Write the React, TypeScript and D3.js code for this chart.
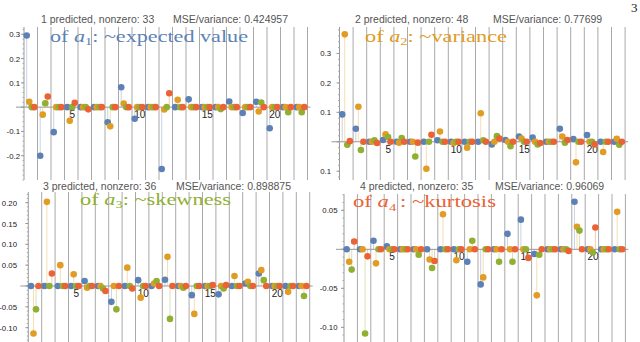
import * as d3 from "d3";
import React from "react";

// 21 feature groups, 4 predicted coefficients each
const groups = d3.range(1, 22);
const colors = ["#5e81b5", "#e19c24", "#8fb032", "#eb6235"];
const xTicks = [5, 10, 15, 20];

// panel 1: a1 ~ expected value
const p1Blue = [0.295, -0.2, -0.103, 0, 0, 0, -0.062, 0.082, -0.048, 0, -0.255, 0, 0.032, 0, 0, 0.023, -0.024, 0.022, -0.087, 0, 0];
const p1Orange = [0.022, -0.031, 0, -0.056, 0, 0, -0.079, 0.015, 0, 0, -0.01, 0.03, 0, 0, 0, 0, 0, -0.018, 0, 0, 0];
const p1Green = [0, 0.016, 0, 0, 0, 0, 0, 0, 0, 0, 0, 0, 0, 0, -0.008, 0, 0, 0.019, 0, -0.021, -0.021];
const p1Red = [0, 0.044, 0, 0.018, -0.009, 0, 0, 0, 0, 0, 0.057, 0, 0, 0, 0, 0, 0, 0, 0, 0, 0];

// panel 2: a2 ~ variance
const p2Blue = [0.093, 0.044, 0, 0.006, 0, 0, 0, 0.005, 0, 0, 0, -0.009, 0.006, 0.018, 0.014, 0, 0.044, 0.009, 0.023, 0, 0];
const p2Orange = [0.365, 0.119, 0, 0.025, -0.003, 0, -0.092, 0.035, -0.004, -0.02, 0.097, 0, 0, 0.011, 0, 0, 0.018, -0.07, 0, -0.035, 0.01];
const p2Green = [-0.01, -0.028, 0.005, 0.016, 0.013, -0.05, 0, 0, 0, 0, 0.005, 0.019, -0.015, 0, -0.009, 0, -0.003, 0, 0, 0, -0.01];
const p2Red = [0.002, 0, -0.004, 0, 0, -0.003, 0.024, 0, 0, 0, 0, 0.011, 0, 0, -0.004, 0, 0.006, 0, -0.009, 0, 0];

// panel 3: a3 ~ skewness
const p3Blue = [0, 0, 0, 0, 0.012, 0, -0.038, 0, 0.014, 0, 0.015, 0, -0.022, 0, -0.02, 0, 0.006, 0.03, 0, 0, 0];
const p3Orange = [-0.114, 0.202, 0.05, 0.028, -0.004, 0, 0, 0.044, -0.028, 0.006, 0.07, 0, -0.067, 0, 0, 0.024, 0.01, 0.038, 0, -0.014, 0];
const p3Green = [-0.056, 0, 0, 0, 0, -0.006, -0.056, 0, 0, 0.012, -0.079, -0.004, 0, 0, -0.006, 0, 0, 0.014, 0, 0, -0.024];
const p3Red = [0, 0.03, 0, 0, 0, -0.012, 0, -0.006, 0, 0, 0, 0, 0, 0.002, 0.002, 0, 0, 0, 0, 0, 0];

// panel 4: a4 ~ kurtosis
const p4Blue = [0, 0, 0.011, 0.004, 0, 0, 0, 0, 0, -0.016, -0.045, 0, 0.02, 0.038, -0.006, 0, 0, 0.061, 0, 0, 0];
const p4Orange = [-0.016, 0, -0.018, 0, 0, 0, -0.013, 0.045, -0.014, 0, -0.036, 0, 0, 0, -0.059, 0, 0, 0.029, 0, 0, 0.048];
const p4Green = [-0.026, -0.108, 0, 0, 0, -0.007, -0.024, 0, 0, 0.011, 0, -0.016, -0.016, 0, -0.007, 0, 0, 0.024, -0.004, 0, 0];
const p4Red = [0.01, -0.009, 0, 0, 0, 0, -0.015, 0, 0, 0, 0, 0, 0, -0.011, 0, 0, -0.002, 0, 0.028, 0, 0];

const panels = [
  {
    id: 1, series: [p1Blue, p1Orange, p1Green, p1Red],
    clip: [0, 0, 320, 182], axisX: 24, labelX: 20, groupW: 13.5, top: 27, bottom: 180,
    yDomain: [-0.3, 0.33], yMajor: [-0.2, -0.1, 0.1, 0.2, 0.3], yMinor: 0.02, yFmt: ".1f",
    title: ["1 predicted, nonzero: 33", "MSE/variance: 0.424957"], titleX: [41, 173], titleY: 22.5,
    note: { x: 50, y: 41.7, w: 198, sub: "1", rest: ": ~expected value", color: colors[0] },
  },
  {
    id: 2, series: [p2Blue, p2Orange, p2Green, p2Red],
    clip: [320, 0, 320, 182], axisX: 339.5, labelX: 331, groupW: 13.6, top: 27, bottom: 180,
    yDomain: [-0.13, 0.39], yMajor: [-0.1, 0.1, 0.2, 0.3], yMinor: 0.02, yFmt: ".1f",
    title: ["2 predicted, nonzero: 48", "MSE/variance: 0.77699"], titleX: [355, 493], titleY: 22.5,
    note: { x: 365, y: 41.7, w: 142, sub: "2", rest: ": ~variance", color: colors[1] },
  },
  {
    id: 3, series: [p3Blue, p3Orange, p3Green, p3Red],
    clip: [0, 182, 320, 160], axisX: 28.3, labelX: 17, groupW: 13.4, top: 192, bottom: 342,
    yDomain: [-0.1344, 0.2256], yMajor: [-0.1, -0.05, 0.05, 0.1, 0.15, 0.2], yMinor: 0.01, yFmt: ".2f",
    title: ["3 predicted, nonzero: 36", "MSE/variance: 0.898875"], titleX: [43, 176], titleY: 189.5,
    note: { x: 80, y: 204.5, w: 151, sub: "3", rest: ": ~skewness", color: colors[2] },
  },
  {
    id: 4, series: [p4Blue, p4Orange, p4Green, p4Red],
    clip: [320, 182, 320, 160], axisX: 344, labelX: 337.5, groupW: 13.4, top: 194, bottom: 342,
    yDomain: [-0.1188, 0.0709], yMajor: [-0.1, -0.05, 0.05], yMinor: 0.01, yFmt: ".2f",
    title: ["4 predicted, nonzero: 35", "MSE/variance: 0.96069"], titleX: [360, 495], titleY: 189.5,
    note: { x: 353, y: 207, w: 143, sub: "4 ", rest: ": ~kurtosis", color: colors[3] },
  },
];

const Panel = ({ p }) => {
  const x = d3.scaleLinear().domain([1.42, 22.42]).range([p.axisX, p.axisX + 21 * p.groupW]);
  const y = d3.scaleLinear().domain(p.yDomain).range([p.bottom, p.top]);
  const y0 = y(0);
  const fmt = (v) => d3.format(p.yFmt)(v).replace("\u2212", "-");
  const minor = d3.range(Math.ceil(p.yDomain[0] / p.yMinor), Math.floor(p.yDomain[1] / p.yMinor) + 1).map((k) => k * p.yMinor);
  const offs = [0.2, 0.387, 0.573, 0.76];
  return (
    <g clipPath={`url(#clip${p.id})`}>
      {groups.map((g) => (
        <line key={g} x1={x(g + 1.42)} x2={x(g + 1.42)} y1={p.top} y2={p.bottom} stroke="#a9a9a9" strokeWidth={1} />
      ))}
      <line x1={p.axisX} x2={p.axisX} y1={p.top} y2={p.bottom} stroke="#999" />
      <line x1={p.axisX - 8} x2={x(22.42) + 3} y1={y0} y2={y0} stroke="#999" />
      {minor.map((v, i) => (
        <line key={"m" + i} x1={p.axisX - 1.5} x2={p.axisX} y1={y(v)} y2={y(v)} stroke="#aaa" />
      ))}
      {p.yMajor.concat([0]).map((v, i) => (
        <line key={"M" + i} x1={p.axisX - 3} x2={p.axisX} y1={y(v)} y2={y(v)} stroke="#999" />
      ))}
      {p.yMajor.map((v, i) => (
        <text key={"l" + i} x={p.labelX} y={y(v) + 3} textAnchor="end" fontFamily="Liberation Sans, Arial, sans-serif" fontSize={7.8} fill="#222">
          {fmt(v)}
        </text>
      ))}
      {xTicks.map((t) => (
        <g key={t}>
          <line x1={x(t)} x2={x(t)} y1={y0} y2={y0 + 3} stroke="#999" />
          <text x={x(t)} y={y0 + 11} textAnchor="middle" fontFamily="Liberation Sans, Arial, sans-serif" fontSize={10} fill="#222">
            {t}
          </text>
        </g>
      ))}
      {p.series.map((vals, j) =>
        vals.map((v, i) =>
          v !== 0 ? (
            <line key={`s${j}-${i}`} x1={x(groups[i] + 0.42 + offs[j])} x2={x(groups[i] + 0.42 + offs[j])} y1={y0} y2={y(v)} stroke={colors[j]} strokeOpacity={0.35} strokeWidth={1} />
          ) : null
        )
      )}
      {p.series.map((vals, j) =>
        vals.map((v, i) => (
          <circle key={`c${j}-${i}`} cx={x(groups[i] + 0.42 + offs[j])} cy={y(v)} r={3.3} fill={colors[j]} />
        ))
      )}
      {p.title.map((t, i) => (
        <text key={"t" + i} x={p.titleX[i]} y={p.titleY} fontFamily="Liberation Sans, Arial, sans-serif" fontSize={10.5} fill="#555">
          {t}
        </text>
      ))}
      <text x={p.note.x} y={p.note.y} fill={p.note.color} fontFamily="Liberation Serif, serif" fontSize={17} textLength={p.note.w} lengthAdjust="spacingAndGlyphs">
        {"of "}
        <tspan fontStyle="italic">a</tspan>
        <tspan fontSize={11} dy={3.5}>{p.note.sub}</tspan>
        <tspan dy={-3.5}>{p.note.rest}</tspan>
      </text>
    </g>
  );
};

export default function App() {
  return (
    <svg width={640} height={342} style={{ position: "absolute", left: 0, top: 0, background: "#fff" }}>
      <defs>
        {panels.map((p) => (
          <clipPath key={p.id} id={`clip${p.id}`}>
            <rect x={p.clip[0]} y={p.clip[1]} width={p.clip[2]} height={p.clip[3]} />
          </clipPath>
        ))}
      </defs>
      <rect width={640} height={342} fill="#fff" />
      {panels.map((p) => (
        <Panel key={p.id} p={p} />
      ))}
      <text x={631} y={12} fontFamily="Liberation Serif, serif" fontSize={13} fill="#222">3</text>
    </svg>
  );
}
